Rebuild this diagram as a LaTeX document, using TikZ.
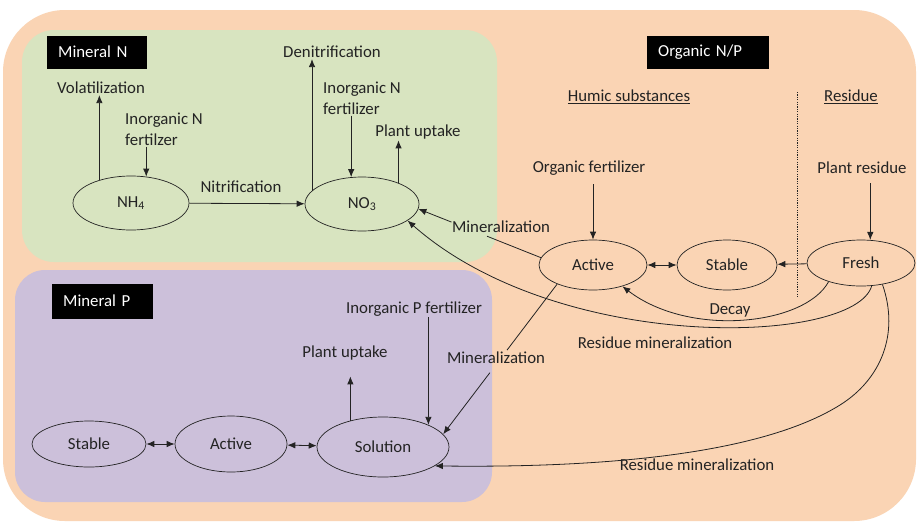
\documentclass[tikz,border=0pt]{standalone}
\usepackage{fontspec}
\setmainfont{Carlito}
\usetikzlibrary{arrows.meta,shapes.geometric}
\definecolor{orgbg}{RGB}{250,212,180}
\definecolor{minNbg}{RGB}{216,228,192}
\definecolor{minPbg}{RGB}{204,192,218}
\definecolor{ink}{RGB}{35,35,35}

\begin{document}
\begin{tikzpicture}[x=1pt, y=-1pt, >={Latex[length=8pt,width=6.5pt]},
	every node/.style={font=\fontsize{16.8}{21}\selectfont, text=ink, inner sep=1pt},
	pool/.style={draw=ink, ellipse, inner sep=0pt, line width=0.7pt},
	tag/.style={fill=black, text=white, anchor=west, inner xsep=11pt, minimum height=33pt, align=left},
	flow/.style={draw=ink, line width=0.8pt}]
	\useasboundingbox[fill=white] (0,0) rectangle (920,522);
	\fill[orgbg, rounded corners=62pt] (3,10) rectangle (916,521);
	\fill[minNbg, rounded corners=32pt] (22,30) rectangle (497,262);
	\fill[minPbg, rounded corners=30pt] (15,270) rectangle (492,502);

	\node[tag, text width=78pt] (tagN) at (47,52) {Mineral N};
	\node[tag, text width=100pt] (tagO) at (647,52) {Organic N/P};
	\node[tag, text width=79pt, minimum height=35pt] (tagP) at (52,301) {Mineral P};

	\node[pool, minimum width=116pt, minimum height=54pt] (nh4) at (131,203) {NH\textsubscript{4}};
	\node[pool, minimum width=114pt, minimum height=54pt] (no3) at (362,204) {NO\textsubscript{3}};
	\node[pool, minimum width=108pt, minimum height=50pt] (act) at (593,265) {Active};
	\node[pool, minimum width=100pt, minimum height=50pt] (stab) at (727,265) {Stable};
	\node[pool, minimum width=108pt, minimum height=46pt] (fresh) at (861,263) {Fresh};
	\node[pool, minimum width=114pt, minimum height=46pt] (pstab) at (89,444) {Stable};
	\node[pool, minimum width=112pt, minimum height=56pt] (pact) at (231,444) {Active};
	\node[pool, minimum width=132pt, minimum height=60pt] (sol) at (383,447) {Solution};

	\node (volat) at (101,88) {Volatilization};
	\node[align=left, anchor=west] (nfertA) at (124,129) {Inorganic N\\fertilzer};
	\node (nitri) at (241,187) {Nitrification};
	\node (denit) at (332,52) {Denitrification};
	\node[align=left, anchor=west] (nfertB) at (322,98) {Inorganic N\\fertilizer};
	\node (nupt) at (418,132) {Plant uptake};
	\node (minN) at (501,227) {Mineralization};
	\node (humic) at (629,97) {\underline{Humic substances}};
	\node (resid) at (851,97) {\underline{Residue}};
	\node (orgf) at (589,168) {Organic fertilizer};
	\node (plres) at (862,168) {Plant residue};
	\node (decay) at (730,310) {Decay};
	\node (rmA) at (655,343) {Residue mineralization};
	\node (rmB) at (697,465) {Residue mineralization};
	\node (ipf) at (414,309) {Inorganic P fertilizer};
	\node (pupt) at (345,353) {Plant uptake};
	\node (minP) at (496,358) {Mineralization};

	\draw[flow,->] (nh4.144) -- (nh4.144 |- volat.south);
	\draw[flow,->] (nh4.60 |- nfertA.south) -- (nh4.60);
	\draw[flow,->] (nh4) -- (no3);
	\draw[flow,->] (no3.165) -- (no3.165 |- denit.south);
	\draw[flow,->] (no3.112 |- nfertB.south) -- (no3.112);
	\draw[flow,->] (no3.30) -- (no3.30 |- nupt.south);

	\draw[flow,->, shorten <=8pt] (act.north |- orgf.south) -- (act.north);
	\draw[flow,->, shorten <=8pt] (fresh.68 |- plres.south) -- (fresh.68);
	\draw[flow,<->] (act) -- (stab);
	\draw[flow,->] (fresh) -- (stab);
	\draw[ink, line width=1pt, dash pattern=on 1.2pt off 1.2pt] (797,92) -- (797,298);

	\path (act.172) -- coordinate[pos=.44] (minNa) coordinate[pos=.73] (minNb) (no3.-5);
	\draw[flow] (act.172) -- (minNa);
	\draw[flow,->] (minNb) -- (no3.-5);
	\path (act.208) -- coordinate[pos=.44] (minPa) coordinate[pos=.59] (minPb) (sol.12);
	\draw[flow] (act.208) -- (minPa);
	\draw[flow,->] (minPb) -- (sol.12);

	\draw[flow,->] (fresh.210) .. controls (805,325) and (690,338) .. (act.-36);
	\draw[flow,->] (fresh.-65) .. controls (855,345) and (560,355) .. (no3.-20);
	\draw[flow,->] (fresh.-45) .. controls (900,335) and (880,380) .. (840,405)
		.. controls (760,455) and (600,468) .. (sol.-20);

	\draw[flow,->] (sol.26 |- ipf.south) -- (sol.26);
	\draw[flow,->, shorten >=15pt] (sol.141) -- (sol.141 |- pupt.south);
	\draw[flow,<->] (pstab) -- (pact);
	\draw[flow,<->] (pact) -- (sol);
\end{tikzpicture}
\end{document}
